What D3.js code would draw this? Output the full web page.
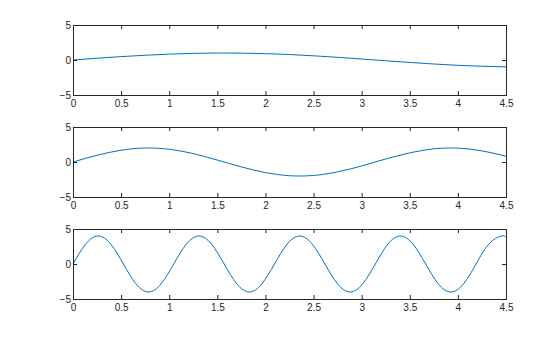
<!DOCTYPE html>
<html>
<head>
<meta charset="utf-8">
<script src="https://cdn.jsdelivr.net/npm/d3@7"></script>
<style>
body { margin: 0; background: #fff; }
text { font-family: "Liberation Sans", Arial, sans-serif; font-size: 10px; fill: #262626; }
</style>
</head>
<body>
<script>
// values
var x1 = [0, 0.25, 0.5, 0.75, 1, 1.25, 1.5, 1.75, 2, 2.25, 2.5, 2.75, 3, 3.25, 3.5, 3.75, 4, 4.25, 4.5];
var y1 = [0, 0.25, 0.48, 0.68, 0.84, 0.95, 1.0, 0.98, 0.91, 0.78, 0.60, 0.38, 0.14, -0.11, -0.35, -0.57, -0.76, -0.89, -0.98];

var x2 = [0, 0.125, 0.25, 0.375, 0.5, 0.625, 0.75, 0.875, 1, 1.125, 1.25, 1.375, 1.5, 1.625, 1.75, 1.875,
          2, 2.125, 2.25, 2.375, 2.5, 2.625, 2.75, 2.875, 3, 3.125, 3.25, 3.375, 3.5, 3.625, 3.75, 3.875,
          4, 4.125, 4.25, 4.375, 4.5];
var y2 = [0, 0.50, 0.96, 1.36, 1.68, 1.90, 2.0, 1.97, 1.82, 1.56, 1.20, 0.76, 0.28, -0.22, -0.70, -1.14,
          -1.51, -1.79, -1.96, -2.0, -1.92, -1.72, -1.41, -1.02, -0.56, -0.06, 0.43, 0.89, 1.31, 1.64, 1.88, 1.99,
          1.98, 1.84, 1.59, 1.24, 0.82];

var x3 = [0, 0.131, 0.262, 0.393, 0.524, 0.654, 0.785, 0.916, 1.047, 1.178, 1.309, 1.440, 1.571, 1.702,
          1.833, 1.963, 2.094, 2.225, 2.356, 2.487, 2.618, 2.749, 2.880, 3.011, 3.142, 3.272, 3.403, 3.534,
          3.665, 3.796, 3.927, 4.058, 4.189, 4.320, 4.451, 4.5];
var y3 = [0, 2.83, 4, 2.83, 0, -2.83, -4, -2.83, 0, 2.83, 4, 2.83, 0, -2.83, -4, -2.83, 0, 2.83, 4, 2.83,
          0, -2.83, -4, -2.83, 0, 2.83, 4, 2.83, 0, -2.83, -4, -2.83, 0, 2.83, 4, 3.82];

var xTicks = [0, 0.5, 1, 1.5, 2, 2.5, 3, 3.5, 4, 4.5];
var yTicks = [-5, 0, 5];

var panels = [
    { xs: x1, ys: y1, top: 25 },
    { xs: x2, ys: y2, top: 127 },
    { xs: x3, ys: y3, top: 229 }
];

var svg = d3.select('body')
    .append('svg')
    .attr('width', 560)
    .attr('height', 337);

var left = 73, right = 506, h = 70, tick = 4;
var ink = '#262626';

var x = d3.scaleLinear().domain([0, 4.5]).range([left, right]);

function styleText(a) {
    a.select('.domain').remove();
    a.selectAll('line').attr('stroke', ink);
    a.selectAll('text').attr('fill', ink).style('font-size', '10px')
        .style('font-family', '"Liberation Sans", Arial, sans-serif');
}

panels.forEach(function(p) {
    var y = d3.scaleLinear().domain([-5, 5]).range([p.top + h, p.top]);
    var g = svg.append('g');

    var line = d3.line()
        .x(function(d) { return x(d[0]); })
        .y(function(d) { return y(d[1]); })
        .curve(d3.curveNatural);

    g.append('path')
        .datum(d3.zip(p.xs, p.ys))
        .attr('d', line)
        .attr('fill', 'none')
        .attr('stroke', '#0072BD')
        .attr('stroke-width', 1);

    // bottom axis, ticks inside
    g.append('g')
        .attr('transform', 'translate(0,' + (p.top + h) + ')')
        .call(d3.axisBottom(x).tickValues(xTicks).tickSize(-tick).tickPadding(5)
            .tickFormat(d3.format('')))
        .call(styleText);

    // top ticks
    g.append('g')
        .attr('transform', 'translate(0,' + p.top + ')')
        .call(d3.axisTop(x).tickValues(xTicks).tickSize(-tick).tickFormat(''))
        .call(styleText);

    // left axis
    g.append('g')
        .attr('transform', 'translate(' + left + ',0)')
        .call(d3.axisLeft(y).tickValues(yTicks).tickSize(-tick).tickPadding(2))
        .call(styleText);

    // right ticks
    g.append('g')
        .attr('transform', 'translate(' + right + ',0)')
        .call(d3.axisRight(y).tickValues(yTicks).tickSize(-tick).tickFormat(''))
        .call(styleText);

    // box
    g.append('rect')
        .attr('x', left + 0.5)
        .attr('y', p.top + 0.5)
        .attr('width', right - left)
        .attr('height', h)
        .attr('fill', 'none')
        .attr('stroke', ink)
        .attr('stroke-width', 1)
        .attr('shape-rendering', 'crispEdges');
});
</script>
</body>
</html>
